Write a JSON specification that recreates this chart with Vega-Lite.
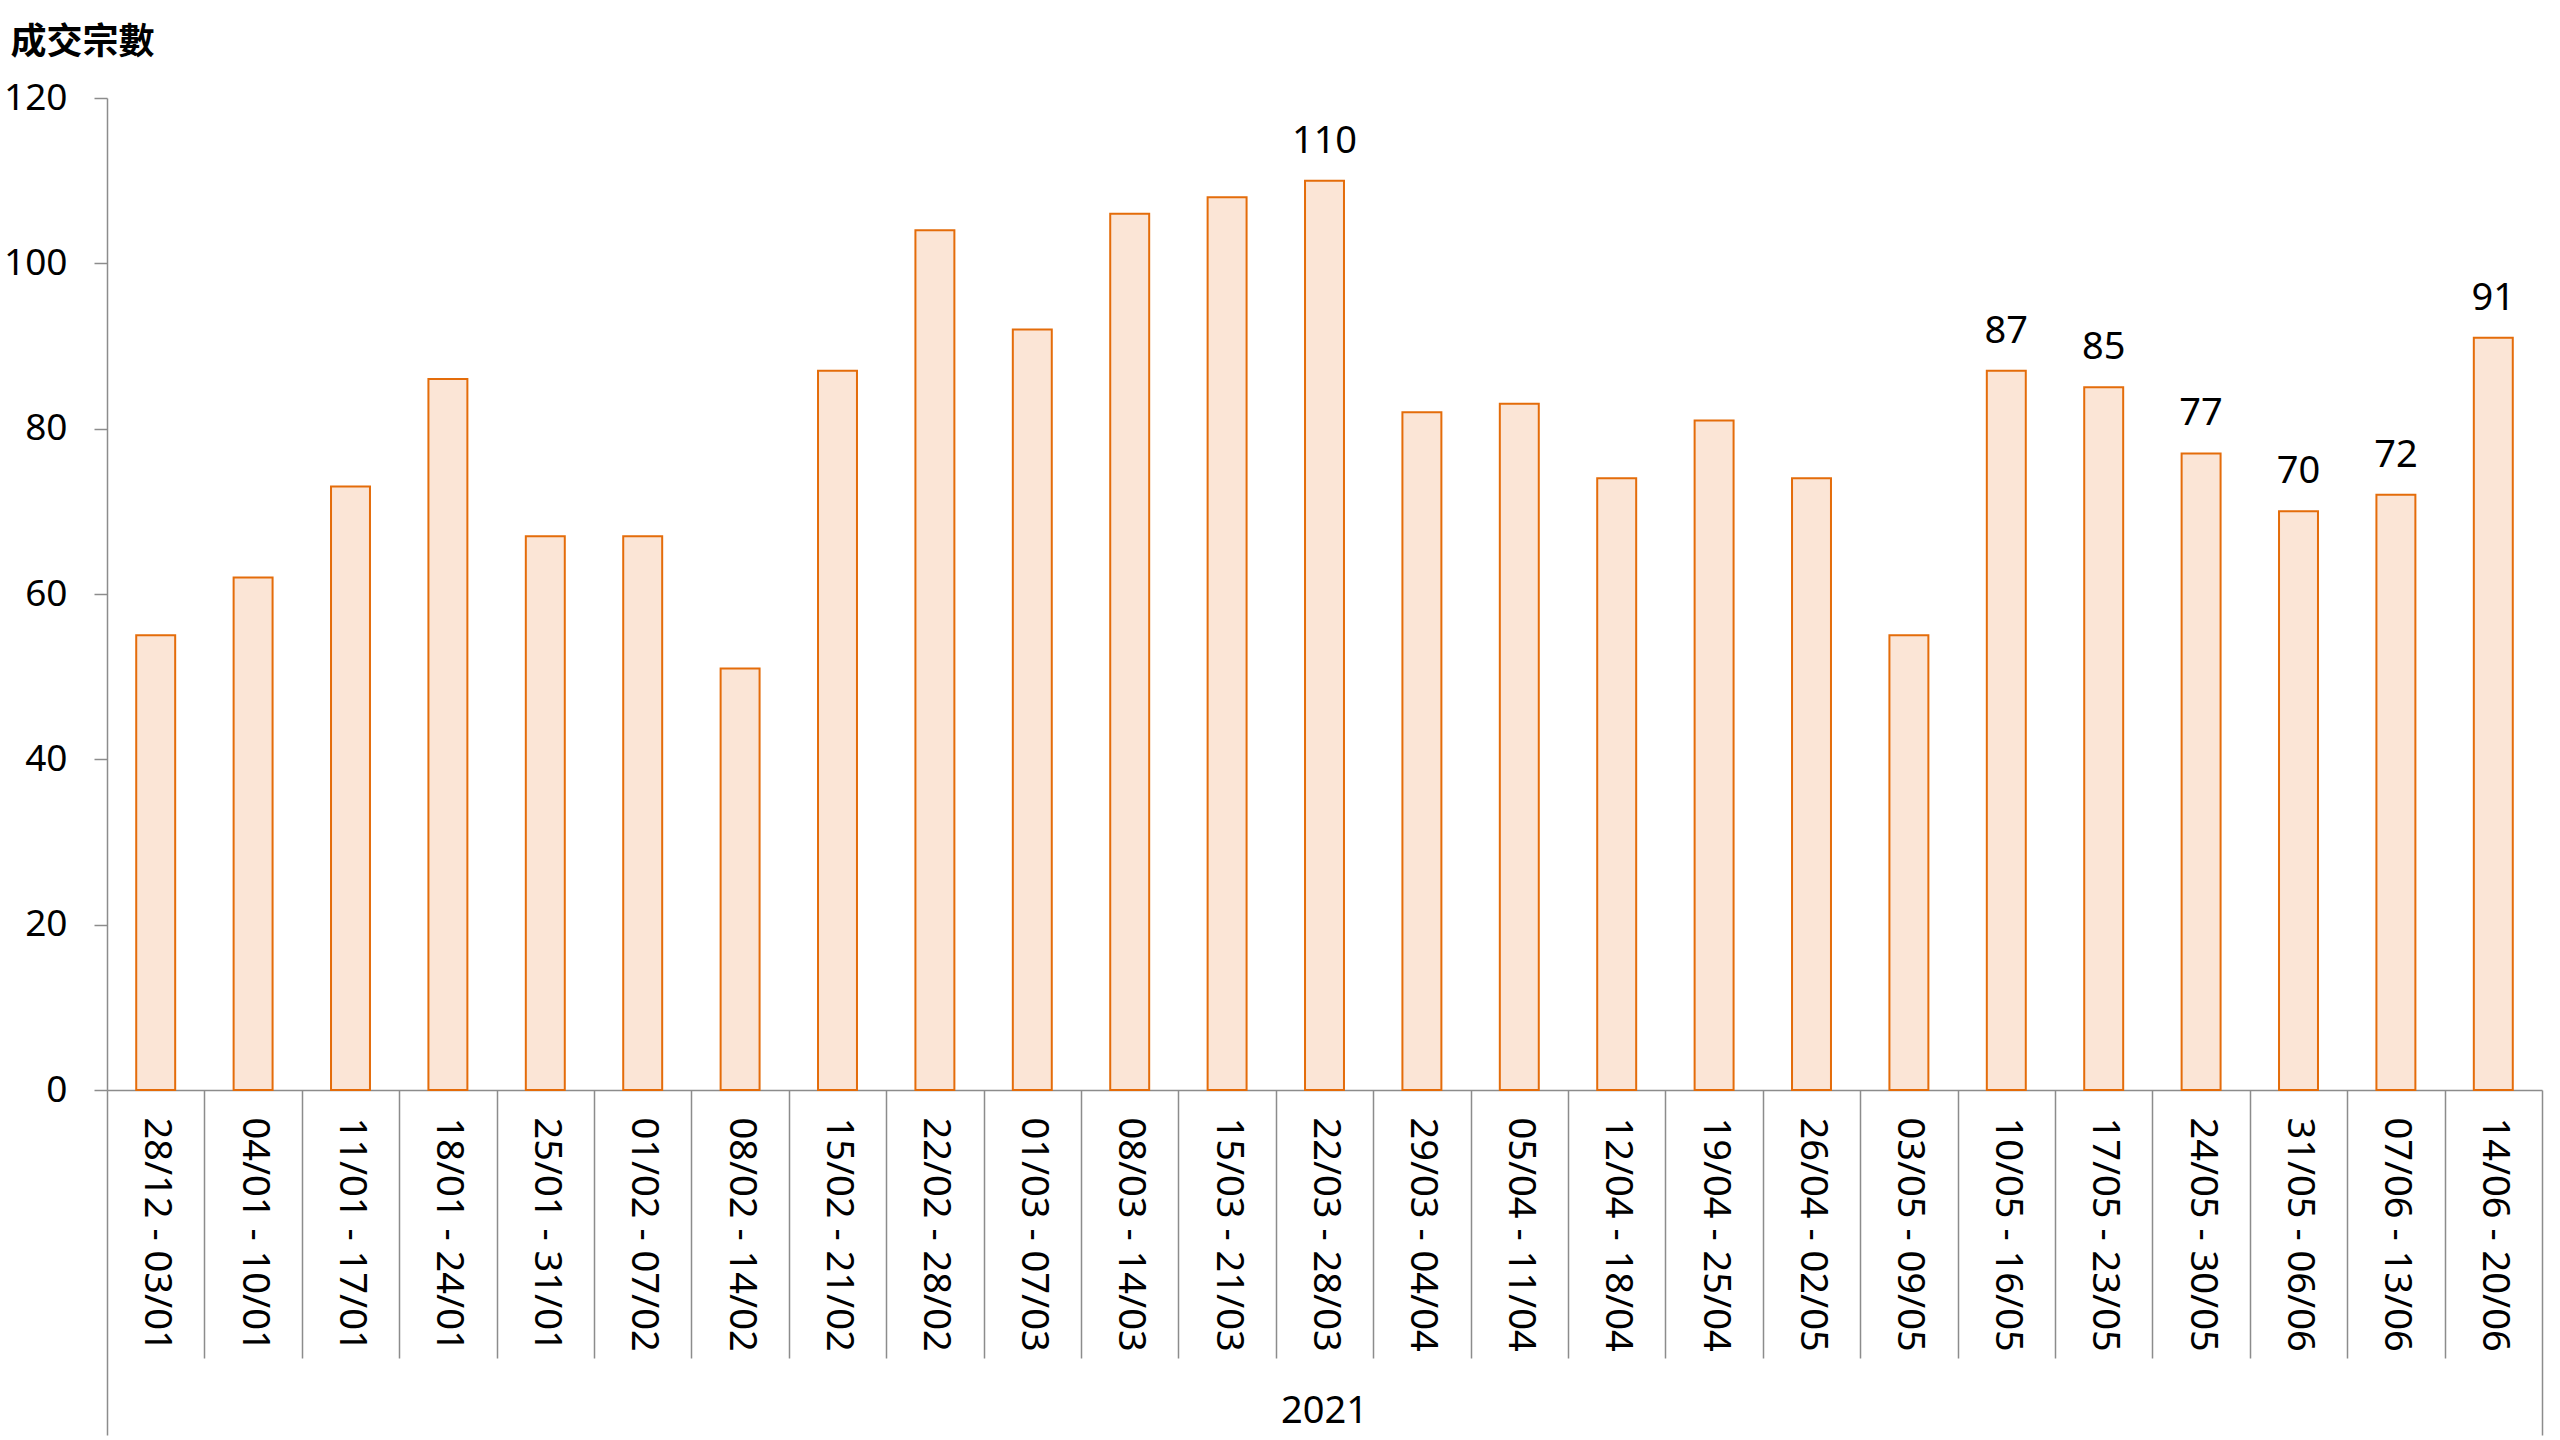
{
  "$schema": "https://vega.github.io/schema/vega-lite/v6.json",
  "width": 2435,
  "height": 992,
  "autosize": "none",
  "padding": {"left": 107, "top": 98, "right": 18, "bottom": 350},
  "background": "white",
  "config": {
    "view": {"stroke": null},
    "font": "Noto Sans",
    "axis": {"grid": false, "domainColor": "#8c8c8c", "tickColor": "#8c8c8c", "domainWidth": 1.5, "tickWidth": 1.5, "labelColor": "#000000", "labelFont": "Noto Sans", "labelFontSize": 38, "labelFontWeight": "normal", "labelLimit": 0}
  },
  "datasets": {
    "weeks": [
      {"week": "28/12 - 03/01", "value": 55},
      {"week": "04/01 - 10/01", "value": 62},
      {"week": "11/01 - 17/01", "value": 73},
      {"week": "18/01 - 24/01", "value": 86},
      {"week": "25/01 - 31/01", "value": 67},
      {"week": "01/02 - 07/02", "value": 67},
      {"week": "08/02 - 14/02", "value": 51},
      {"week": "15/02 - 21/02", "value": 87},
      {"week": "22/02 - 28/02", "value": 104},
      {"week": "01/03 - 07/03", "value": 92},
      {"week": "08/03 - 14/03", "value": 106},
      {"week": "15/03 - 21/03", "value": 108},
      {"week": "22/03 - 28/03", "value": 110, "label": 110},
      {"week": "29/03 - 04/04", "value": 82},
      {"week": "05/04 - 11/04", "value": 83},
      {"week": "12/04 - 18/04", "value": 74},
      {"week": "19/04 - 25/04", "value": 81},
      {"week": "26/04 - 02/05", "value": 74},
      {"week": "03/05 - 09/05", "value": 55},
      {"week": "10/05 - 16/05", "value": 87, "label": 87},
      {"week": "17/05 - 23/05", "value": 85, "label": 85},
      {"week": "24/05 - 30/05", "value": 77, "label": 77},
      {"week": "31/05 - 06/06", "value": 70, "label": 70},
      {"week": "07/06 - 13/06", "value": 72, "label": 72},
      {"week": "14/06 - 20/06", "value": 91, "label": 91}
    ],
    "years": [{"year": "2021"}]
  },
  "layer": [
    {
      "data": {"name": "weeks"},
      "encoding": {
        "x": {
          "field": "week", "type": "nominal", "sort": null,
          "scale": {"type": "band", "paddingInner": 0, "paddingOuter": 0},
          "axis": {"title": null, "orient": "bottom", "labelAngle": 90, "labelAlign": "left", "labelBaseline": "middle", "tickBand": "extent",
            "tickSize": {"condition": {"test": "datum.extra || datum.value === '14/06 - 20/06'", "value": 345}, "value": 268},
            "labelPadding": {"condition": {"test": "datum.value === '14/06 - 20/06'", "value": -318}, "value": -241},
            "domain": true}
        },
        "y": {
          "field": "value", "type": "quantitative",
          "scale": {"domain": [0, 120], "nice": false},
          "axis": {"values": [0, 20, 40, 60, 80, 100, 120], "tickSize": 13, "labelPadding": 27, "labelFontSize": 37, "title": "成交宗數", "titleAngle": 0, "titleX": -97, "titleY": -45, "titleAlign": "left", "titleBaseline": "alphabetic", "titleFont": "Noto Sans CJK TC", "titleFontSize": 36, "titleFontWeight": "bold", "titleColor": "#000000"}
        }
      },
      "layer": [
        {"mark": {"type": "bar", "fill": "#FBE5D6", "stroke": "#E46C0A", "strokeWidth": 2, "width": {"band": 0.4}}},
        {
          "transform": [{"filter": "datum.label != null"}],
          "mark": {"type": "text", "baseline": "alphabetic", "dy": -28, "fontSize": 38, "color": "#000000", "font": "Noto Sans"},
          "encoding": {"text": {"field": "label", "type": "quantitative"}}
        }
      ]
    },
    {
      "data": {"name": "years"},
      "mark": {"type": "rule", "opacity": 0},
      "encoding": {
        "x": {
          "field": "year", "type": "nominal",
          "scale": {"type": "band", "paddingInner": 0, "paddingOuter": 0},
          "axis": {"title": null, "orient": "bottom", "labelAngle": 0, "labelAlign": "center", "labelBaseline": "top", "ticks": false, "labelPadding": 302, "domain": false}
        }
      }
    }
  ],
  "resolve": {"scale": {"x": "independent"}, "axis": {"x": "independent"}}
}
